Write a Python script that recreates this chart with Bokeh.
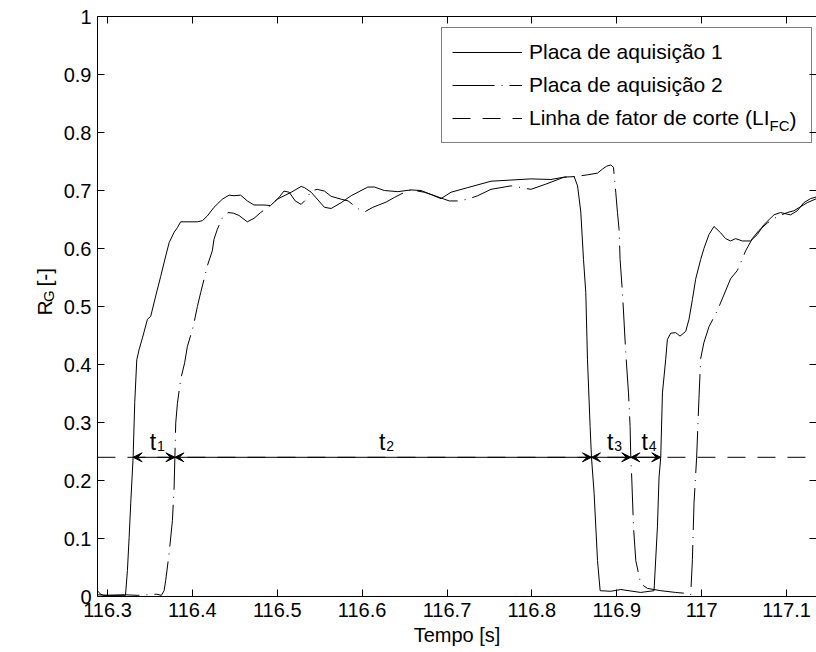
import math
from bokeh.plotting import figure
from bokeh.layouts import row
from bokeh.models import (ColumnDataSource, Range1d, FixedTicker, LinearAxis, Legend,
                          LegendItem, Arrow, VeeHead)
from bokeh.core.properties import value
from bokeh.embed import file_html
from bokeh.resources import INLINE

# ---------------- data ----------------
t_placa1 = [116.2882, 116.2918, 116.2953, 116.3212, 116.3235, 116.3255, 116.3274, 116.3302,
            116.3321, 116.3345, 116.3373, 116.3412, 116.3471, 116.3509, 116.3568, 116.3627,
            116.3686, 116.3726, 116.3785, 116.3824, 116.3862, 116.4059, 116.4118, 116.4176,
            116.4255, 116.4353, 116.4432, 116.4491, 116.4568, 116.4647, 116.4726, 116.4844,
            116.4921, 116.5000, 116.5165, 116.5282, 116.5321, 116.5400, 116.5556, 116.5635,
            116.5753, 116.5871, 116.6067, 116.6145, 116.6262, 116.6420, 116.6576, 116.6694,
            116.6929, 116.7047, 116.7244, 116.7518, 116.7753, 116.7988, 116.8224, 116.8380,
            116.8498, 116.8538, 116.8576, 116.8608, 116.8635, 116.8655, 116.8686, 116.8702,
            116.8733, 116.8773, 116.8804, 116.8929, 116.9047, 116.9282, 116.9439, 116.9479,
            116.9498, 116.9518, 116.9538, 116.9576, 116.9596, 116.9635, 116.9694, 116.9745,
            116.9812, 116.9851, 116.9891, 116.9929, 116.9988, 117.0027, 117.0086, 117.0145,
            117.0224, 117.0282, 117.0341, 117.0400, 117.0479, 117.0576, 117.0655, 117.0733,
            117.0851, 117.0929, 117.1047, 117.1126, 117.1204, 117.1282, 117.1353]
rg_placa1 = [0.010, 0.004, 0.002, 0.002, 0.045, 0.102, 0.161, 0.240,
             0.334, 0.408, 0.426, 0.446, 0.478, 0.483, 0.518, 0.552,
             0.587, 0.610, 0.628, 0.636, 0.646, 0.646, 0.648, 0.656,
             0.671, 0.685, 0.692, 0.691, 0.692, 0.682, 0.675, 0.675,
             0.674, 0.685, 0.697, 0.707, 0.705, 0.697, 0.671, 0.669,
             0.679, 0.691, 0.706, 0.706, 0.700, 0.698, 0.701, 0.700,
             0.686, 0.697, 0.705, 0.716, 0.718, 0.720, 0.719, 0.723,
             0.724, 0.708, 0.663, 0.581, 0.524, 0.408, 0.293, 0.240,
             0.178, 0.062, 0.010, 0.009, 0.012, 0.007, 0.010, 0.120,
             0.206, 0.240, 0.351, 0.408, 0.443, 0.454, 0.455, 0.449,
             0.457, 0.478, 0.512, 0.547, 0.581, 0.600, 0.624, 0.638,
             0.627, 0.617, 0.613, 0.617, 0.613, 0.613, 0.624, 0.641,
             0.658, 0.662, 0.658, 0.665, 0.679, 0.686, 0.689]

t_placa2 = [116.2882, 116.3000, 116.3200, 116.3350, 116.3576, 116.3635, 116.3667, 116.3686,
            116.3726, 116.3765, 116.3785, 116.3794, 116.3804, 116.3824, 116.3862, 116.3909,
            116.3941, 116.4000, 116.4020, 116.4059, 116.4098, 116.4138, 116.4176, 116.4235,
            116.4255, 116.4294, 116.4353, 116.4420, 116.4482, 116.4549, 116.4647, 116.4726,
            116.4804, 116.4921, 116.5020, 116.5079, 116.5141, 116.5212, 116.5282, 116.5341,
            116.5400, 116.5471, 116.5556, 116.5635, 116.5753, 116.5835, 116.5949, 116.6027,
            116.6126, 116.6282, 116.6380, 116.6459, 116.6576, 116.6733, 116.6835, 116.7027,
            116.7126, 116.7244, 116.7361, 116.7518, 116.7753, 116.7988, 116.8165, 116.8380,
            116.8498, 116.8655, 116.8773, 116.8832, 116.8882, 116.8929, 116.8961, 116.8988,
            116.9008, 116.9027, 116.9039, 116.9067, 116.9106, 116.9138, 116.9157, 116.9165,
            116.9176, 116.9197, 116.9224, 116.9282, 116.9361, 116.9518, 116.9694, 116.9847,
            116.9871, 116.9891, 116.9910, 116.9941, 116.9968, 116.9988, 117.0027, 117.0086,
            117.0185, 117.0262, 117.0341, 117.0420, 117.0479, 117.0518, 117.0597, 117.0674,
            117.0773, 117.0891, 117.1008, 117.1086, 117.1165, 117.1244, 117.1353]
rg_placa2 = [0.003, 0.002, 0.003, 0.002, 0.004, 0.002, 0.010, 0.028,
             0.074, 0.131, 0.189, 0.240, 0.299, 0.333, 0.374, 0.403,
             0.431, 0.460, 0.472, 0.500, 0.524, 0.547, 0.570, 0.596,
             0.616, 0.633, 0.653, 0.662, 0.661, 0.657, 0.646, 0.652,
             0.662, 0.674, 0.688, 0.699, 0.697, 0.682, 0.676, 0.685,
             0.699, 0.702, 0.699, 0.690, 0.685, 0.682, 0.669, 0.663,
             0.671, 0.680, 0.688, 0.694, 0.701, 0.697, 0.692, 0.682,
             0.682, 0.685, 0.691, 0.702, 0.708, 0.702, 0.711, 0.723,
             0.724, 0.727, 0.730, 0.737, 0.742, 0.744, 0.740, 0.697,
             0.662, 0.633, 0.581, 0.524, 0.420, 0.351, 0.293, 0.240,
             0.206, 0.120, 0.062, 0.022, 0.014, 0.010, 0.007, 0.005,
             0.003, 0.064, 0.161, 0.240, 0.341, 0.410, 0.438, 0.465,
             0.493, 0.520, 0.548, 0.562, 0.582, 0.596, 0.617, 0.631,
             0.644, 0.655, 0.662, 0.665, 0.672, 0.679, 0.686]

cutoff_level = 0.24
t_cross = [116.3302, 116.3794, 116.8702, 116.9165, 116.9518]
interval_names = ["1", "2", "3", "4"]

x_ticks = [116.3, 116.4, 116.5, 116.6, 116.7, 116.8, 116.9, 117.0, 117.1]
x_tick_labels = ["116.3", "116.4", "116.5", "116.6", "116.7", "116.8", "116.9", "117", "117.1"]
y_ticks = [0.0, 0.1, 0.2, 0.3, 0.4, 0.5, 0.6, 0.7, 0.8, 0.9, 1.0]
y_tick_labels = ["0", "0.1", "0.2", "0.3", "0.4", "0.5", "0.6", "0.7", "0.8", "0.9", "1"]

legend_labels = ["Placa de aquisição 1", "Placa de aquisição 2",
                 "Linha de fator de corte (LI\u2003\u2002"]
legend_sub = "FC"
legend_close = ")"
x_title = "Tempo [s]"
y_title_parts = ["R", "G", "[-]"]

# ---------------- styling constants ----------------
FONT = "Liberation Sans"
PX_PER_S = 850.0
FRAME_W = 720
X0 = 116.3 - 10 / PX_PER_S
X1 = X0 + FRAME_W / PX_PER_S
LEFT_W = 60

# ---------------- narrow figure holding the rotated y title ----------------
pl = figure(width=LEFT_W, height=652, output_backend="svg", toolbar_location=None,
            x_range=Range1d(0, LEFT_W), y_range=Range1d(0, 652),
            x_axis_location=None, y_axis_location=None,
            min_border=0, min_border_left=0, min_border_right=0,
            min_border_top=0, min_border_bottom=0)
pl.outline_line_color = None
pl.grid.visible = False
pl.background_fill_color = "white"
pl.border_fill_color = "white"
ysrc = ColumnDataSource(dict(x=[44, 48, 44], y=[316, 331, 348.5], text=y_title_parts,
                             size=["21px", "15px", "21px"]))
pl.text(x="x", y="y", text="text", source=ysrc, angle=math.pi / 2,
        text_font=value(FONT), text_font_size="size", text_color="black",
        text_align="left", text_baseline="alphabetic")

# ---------------- main figure ----------------
p = figure(width=816 - LEFT_W, height=652, output_backend="svg", toolbar_location=None,
           x_range=Range1d(X0, X1), y_range=Range1d(0, 1),
           min_border_left=96 - LEFT_W, min_border_right=0, min_border_top=16,
           min_border_bottom=56)
p.outline_line_color = None
p.grid.visible = False
p.background_fill_color = "white"
p.border_fill_color = "white"

r1 = p.line(t_placa1, rg_placa1, line_color="black", line_width=1)
r2 = p.line(t_placa2, rg_placa2, line_color="black", line_width=1, line_dash="42 7 1 7")
r3 = p.line([t_placa1[0], t_placa1[-1]], [cutoff_level, cutoff_level],
            line_color="black", line_width=1, line_dash="18 12")

# double arrows between successive crossings of the cut-off line
arrow_src = ColumnDataSource(dict(x0=t_cross[:-1], x1=t_cross[1:],
                                  y=[cutoff_level] * (len(t_cross) - 1)))
head = dict(size=9, fill_color="black", line_color="black", line_width=1)
p.add_layout(Arrow(start=VeeHead(**head), end=VeeHead(**head),
                   x_start="x0", y_start="y", x_end="x1", y_end="y", source=arrow_src,
                   line_color="black", line_width=1))

mid = [(a + b) / 2 for a, b in zip(t_cross[:-1], t_cross[1:])]
lab_src = ColumnDataSource(dict(x=mid, y=[cutoff_level] * len(mid), t=["t"] * len(mid),
                                sub=interval_names))
p.text(x="x", y="y", text="t", source=lab_src, text_font=value(FONT),
       text_font_size="23px", text_align="center", text_baseline="alphabetic",
       x_offset=-1, y_offset=-15, text_color="black")
p.text(x="x", y="y", text="sub", source=lab_src, text_font=value(FONT),
       text_font_size="14px", text_align="left", text_baseline="alphabetic",
       x_offset=3, y_offset=-11, text_color="black")

# axes
for ax in (p.xaxis[0], p.yaxis[0]):
    ax.major_tick_in = 7
    ax.major_tick_out = 0
    ax.minor_tick_in = 0
    ax.minor_tick_out = 0
    ax.axis_line_color = "black"
    ax.major_tick_line_color = "black"
    ax.major_label_text_font = FONT
    ax.major_label_text_font_size = "20px"
    ax.major_label_text_color = "black"

xa = p.xaxis[0]
xa.ticker = FixedTicker(ticks=x_ticks)
xa.major_label_overrides = dict(zip(x_ticks, x_tick_labels))
xa.major_label_standoff = 6
xa.axis_label = x_title
xa.axis_label_text_font = FONT
xa.axis_label_text_font_size = "20px"
xa.axis_label_text_font_style = "normal"
xa.axis_label_text_color = "black"
xa.axis_label_standoff = 4

ya = p.yaxis[0]
ya.ticker = FixedTicker(ticks=y_ticks)
ya.major_label_overrides = dict(zip(y_ticks, y_tick_labels))
ya.major_label_standoff = 6

top = LinearAxis(ticker=FixedTicker(ticks=x_ticks),
                 major_label_overrides={t: "" for t in x_ticks},
                 major_label_text_font_size="1px",
                 major_tick_in=7, major_tick_out=0, minor_tick_in=0, minor_tick_out=0,
                 axis_line_color="black", major_label_standoff=0)
p.add_layout(top, "above")
right = LinearAxis(ticker=FixedTicker(ticks=y_ticks),
                   major_label_overrides={t: "" for t in y_ticks},
                   major_label_text_font_size="1px",
                   major_tick_in=7, major_tick_out=0, minor_tick_in=0, minor_tick_out=0,
                   axis_line_color=None, major_label_standoff=0)
p.add_layout(right, "right")

# legend (transparent so the subscript glyphs underneath show)
legend = Legend(items=[LegendItem(label=legend_labels[0], renderers=[r1]),
                       LegendItem(label=legend_labels[1], renderers=[r2]),
                       LegendItem(label=legend_labels[2], renderers=[r3])],
                location=(344, 453), orientation="vertical",
                label_text_font=FONT, label_text_font_size="21px", label_text_color="black",
                glyph_width=70, glyph_height=28, label_height=28, spacing=5, padding=10,
                label_standoff=7, border_line_color="black", border_line_width=1,
                background_fill_alpha=0.0, margin=0)
p.add_layout(legend)

sub_src = ColumnDataSource(dict(x=[X1, X1], y=[1.0, 1.0], text=[legend_sub, legend_close],
                                size=["15px", "21px"], dx=[-47, -27], dy=[109, 103]))
p.text(x="x", y="y", text="text", source=sub_src, text_font=value(FONT),
       text_font_size="size", x_offset="dx", y_offset="dy", text_color="black",
       text_align="left", text_baseline="middle")

layout = row(pl, p, spacing=0)
open("out.html", "w").write(file_html(layout, INLINE))
